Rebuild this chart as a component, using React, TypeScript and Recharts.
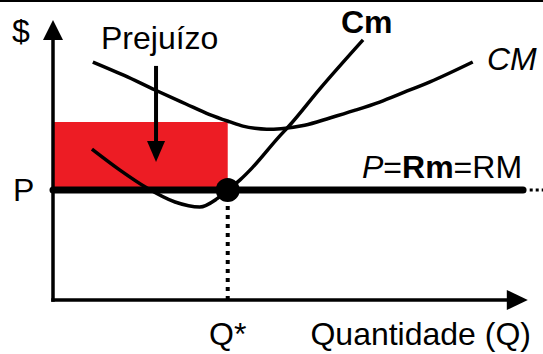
import React from 'react';
import {
  ComposedChart,
  Line,
  XAxis,
  YAxis,
  ReferenceLine,
  ReferenceArea,
  ReferenceDot,
  Customized,
} from 'recharts';

// Curva de custo marginal (Cm)
const cmQ = [8.2, 14.1, 19.8, 25.7, 30.9, 34.5, 36.8, 39.4, 41.9, 47.4, 49.9, 56.2, 65.3];
const cmValues = [53.9, 46.4, 40, 35, 33.2, 36.1, 39.3, 42.9, 47.1, 57.9, 62.5, 75.4, 92.9];

// Curva de custo médio (CM)
const cMeQ = [8.4, 15, 21.5, 28, 33, 37.3, 40, 42.5, 45, 48, 53, 58.3, 63.5, 68.8, 74, 79.4, 88.4];
const cMeValues = [85, 80.2, 75, 70, 66.2, 63.6, 62.1, 61.3, 61, 61.2, 62.4, 65, 67.7, 70.7, 74.2, 77.9, 85];

const PRICE = 39.3;
const Q_STAR = 36.8;
const CME_AT_Q = 63.6;
const X_MAX = 103.2;
const AXIS_END = 100;
const LOSS_ARROW_X = 21.7;

const cmData = cmQ.map((q, i) => ({ q, v: cmValues[i] }));
const cMeData = cMeQ.map((q, i) => ({ q, v: cMeValues[i] }));

const FONT = '"Liberation Sans", Arial, sans-serif';
const FS = 32;

const Labels = () => (
  <g fontFamily={FONT} fill="#000">
    <text x={12} y={40} fontSize={FS}>$</text>
    <text x={101} y={47} fontSize={FS}>Prejuízo</text>
    <text x={341} y={31} fontSize={FS} fontWeight="bold">Cm</text>
    <text x={487} y={68} fontSize={FS} fontStyle="italic">CM</text>
    <text x={362} y={176} fontSize={FS}>
      <tspan fontStyle="italic">P</tspan>
      <tspan>=</tspan>
      <tspan fontWeight="bold">Rm</tspan>
      <tspan>=RM</tspan>
    </text>
    <text x={531} y={343} fontSize={FS} textAnchor="end">Quantidade (Q)</text>
  </g>
);

const upArrow = (p: any) => (
  <polygon points={`${p.cx},${p.cy} ${p.cx - 10},${p.cy + 20} ${p.cx + 10},${p.cy + 20}`} fill="#000" />
);
const rightArrow = (p: any) => (
  <polygon points={`${p.cx},${p.cy} ${p.cx - 21},${p.cy - 10} ${p.cx - 21},${p.cy + 10}`} fill="#000" />
);
const downArrow = (p: any) => (
  <polygon points={`${p.cx},${p.cy} ${p.cx - 9},${p.cy - 21} ${p.cx + 9},${p.cy - 21}`} fill="#000" />
);

export default function App() {
  return (
    <div style={{ position: 'fixed', top: 0, left: 0, width: 543, height: 354, background: '#fff' }}>
      <div style={{ borderTop: '2px solid #000', width: 543 }} />
      <ComposedChart width={543} height={352} margin={{ top: 18, right: 0, bottom: 0, left: 0 }}>
        <XAxis
          type="number"
          dataKey="q"
          domain={[0, X_MAX]}
          allowDataOverflow
          height={54}
          axisLine={false}
          tickLine={false}
          ticks={[Q_STAR]}
          tick={(p: any) => (
            <text x={p.x} y={343} textAnchor="middle" fontSize={FS} fontFamily={FONT} fill="#000">
              Q*
            </text>
          )}
        />
        <YAxis
          type="number"
          domain={[0, 100]}
          allowDataOverflow
          width={53}
          axisLine={false}
          tickLine={false}
          ticks={[PRICE]}
          tick={(p: any) => (
            <text x={13} y={p.y + 11} fontSize={FS} fontFamily={FONT} fill="#000">
              P
            </text>
          )}
        />

        <ReferenceArea x1={0} x2={Q_STAR} y1={PRICE} y2={CME_AT_Q} fill="#ED1C24" fillOpacity={1} stroke="none" />

        {/* eixos */}
        <ReferenceLine segment={[{ x: 0, y: 0 }, { x: 0, y: 96 }]} stroke="#000" strokeWidth={3.5} strokeLinecap="square" />
        <ReferenceLine segment={[{ x: 0, y: 0 }, { x: AXIS_END - 3, y: 0 }]} stroke="#000" strokeWidth={3.5} strokeLinecap="square" />
        <ReferenceDot x={0} y={100} r={10} shape={upArrow} />
        <ReferenceDot x={AXIS_END} y={0} r={10} shape={rightArrow} />

        {/* seta do prejuízo */}
        <ReferenceLine segment={[{ x: LOSS_ARROW_X, y: 83.6 }, { x: LOSS_ARROW_X, y: 55 }]} stroke="#000" strokeWidth={4} />
        <ReferenceDot x={LOSS_ARROW_X} y={49.3} r={9} shape={downArrow} />

        <Line data={cMeData} dataKey="v" type="monotone" stroke="#000" strokeWidth={3.5} dot={false} isAnimationActive={false} />
        <Line data={cmData} dataKey="v" type="monotone" stroke="#000" strokeWidth={3.5} dot={false} isAnimationActive={false} />

        {/* P = Rm = RM */}
        <ReferenceLine segment={[{ x: 0, y: PRICE }, { x: 99, y: PRICE }]} stroke="#000" strokeWidth={7} strokeLinecap="round" />
        <ReferenceLine segment={[{ x: 100.4, y: PRICE }, { x: 103.2, y: PRICE }]} stroke="#000" strokeWidth={3} strokeDasharray="3 3" />

        <ReferenceLine segment={[{ x: Q_STAR, y: 0 }, { x: Q_STAR, y: PRICE }]} stroke="#000" strokeWidth={4} strokeDasharray="4 5" />
        <ReferenceDot x={Q_STAR} y={PRICE} r={12} fill="#000" stroke="none" />

        <Customized component={<Labels />} />
      </ComposedChart>
    </div>
  );
}
